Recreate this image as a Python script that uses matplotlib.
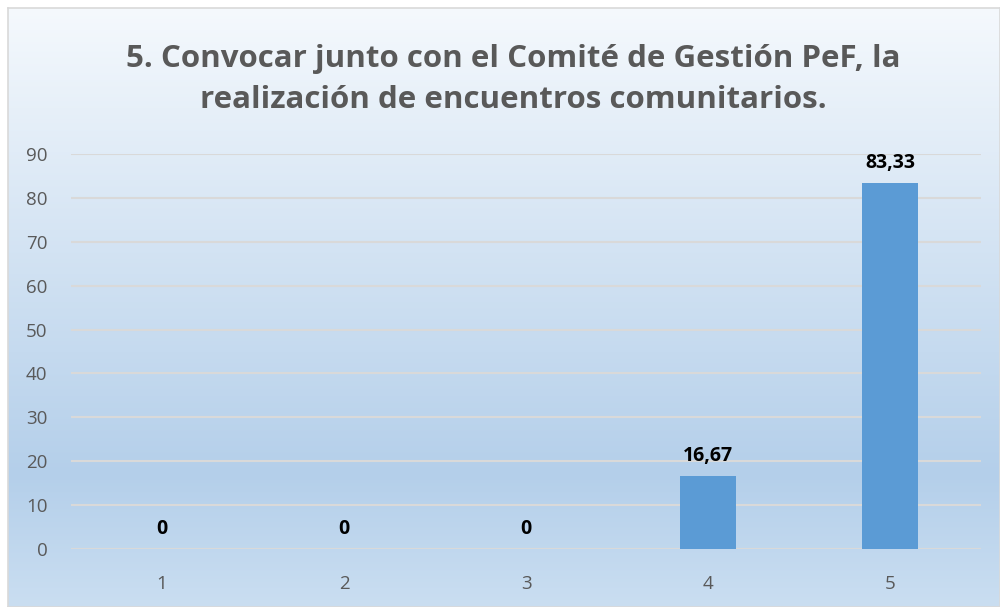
import numpy as np
import matplotlib
matplotlib.use("Agg")
import matplotlib.pyplot as plt
from matplotlib.colors import LinearSegmentedColormap

categories = ["1", "2", "3", "4", "5"]
values = [0, 0, 0, 16.67, 83.33]
labels = ["0", "0", "0", "16,67", "83,33"]
yticks = [0, 10, 20, 30, 40, 50, 60, 70, 80, 90]

title = "5. Convocar junto con el Comité de Gestión PeF, la\nrealización de encuentros comunitarios."

plt.rcParams['font.family'] = ['Open Sans', 'DejaVu Sans']

fig = plt.figure(figsize=(10, 6.07), dpi=100)

# gradient background of the chart area
bg = fig.add_axes([0.008, 0, 0.992, 0.987])
grad = LinearSegmentedColormap.from_list(
    "bg", [(0, "#f5f9fd"), (0.78, "#b4cfea"), (1.0, "#cadef1")])
bg.imshow(np.linspace(0, 1, 256).reshape(-1, 1), cmap=grad, aspect="auto",
          extent=[0, 1, 0, 1])
bg.set_xticks([])
bg.set_yticks([])
for s in bg.spines.values():
    s.set_color("#d9d9d9")
    s.set_linewidth(1.2)

ax = fig.add_axes([0.071, 0.096, 0.91, 0.65])
ax.patch.set_alpha(0)
x = np.arange(len(categories))
bars = ax.bar(x, values, width=0.31, color="#5b9bd5", zorder=3)
for xi, v, lab in zip(x, values, labels):
    ax.text(xi, v + 2.3, lab, ha="center", va="bottom", fontsize=14,
            fontweight="bold", color="black", zorder=4)

ax.set_xlim(-0.5, len(categories) - 0.5)
ax.set_ylim(0, 90)
ax.set_yticks(yticks)
ax.set_xticks(x)
ax.set_xticklabels(categories)
ax.tick_params(length=0, labelsize=13.5, colors="#595959")
ax.tick_params(axis="y", pad=17)
ax.tick_params(axis="x", pad=19)
ax.grid(axis="y", color="#d9d9d9", linewidth=1.5, zorder=0)
for s in ax.spines.values():
    s.set_visible(False)

fig.text(0.513, 0.869, title, ha="center", va="center", fontsize=22.5,
         fontweight="bold", color="#595959", linespacing=1.45)

fig.savefig("out.png", dpi=100)
